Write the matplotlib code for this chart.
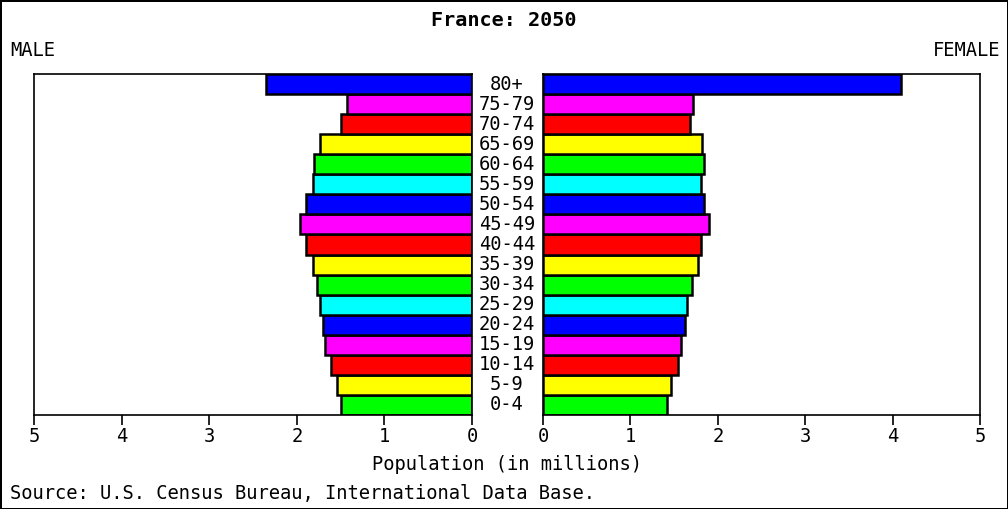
import matplotlib
matplotlib.use('Agg')
import matplotlib.pyplot as plt
import matplotlib.transforms as mtrans

ages = ['0-4', '5-9', '10-14', '15-19', '20-24', '25-29', '30-34', '35-39',
        '40-44', '45-49', '50-54', '55-59', '60-64', '65-69', '70-74',
        '75-79', '80+']
male = [1.50, 1.54, 1.61, 1.68, 1.70, 1.73, 1.77, 1.82,
        1.89, 1.96, 1.89, 1.82, 1.80, 1.73, 1.50, 1.43, 2.35]
female = [1.42, 1.47, 1.54, 1.58, 1.63, 1.65, 1.70, 1.77,
          1.81, 1.90, 1.84, 1.81, 1.84, 1.82, 1.68, 1.72, 4.10]
palette = ['#00ff00', '#ffff00', '#ff0000', '#ff00ff', '#0000ff', '#00ffff']
colors = [palette[i % 6] for i in range(len(ages))]
ticks = [0, 1, 2, 3, 4, 5]

plt.rcParams['font.family'] = 'DejaVu Sans Mono'
fs = 13.5

fig = plt.figure(figsize=(10.08, 5.09), dpi=100)
fig.patch.set_edgecolor('black')
fig.patch.set_linewidth(2)

ax_l = fig.add_axes([34 / 1008, 1 - 415 / 509, 438 / 1008, 341 / 509])
ax_r = fig.add_axes([543 / 1008, 1 - 415 / 509, 437 / 1008, 341 / 509])

y = range(len(ages))
ax_l.barh(y, male, height=1.0, color=colors, edgecolor='black', linewidth=1.8)
ax_r.barh(y, female, height=1.0, color=colors, edgecolor='black', linewidth=1.8)

ax_l.set_xlim(5, 0)
ax_r.set_xlim(0, 5)
for ax in (ax_l, ax_r):
    ax.set_ylim(-0.5, len(ages) - 0.5)
    ax.set_yticks([])
    ax.set_xticks(ticks)
    ax.set_xticklabels([str(t) for t in ticks])
    ax.tick_params(axis='x', direction='out', length=7, width=1.2,
                   labelsize=fs, pad=2)
    for s in ax.spines.values():
        s.set_linewidth(1.2)

# age group labels between the panels
trans = mtrans.blended_transform_factory(fig.transFigure, ax_l.transData)
for i, a in enumerate(ages):
    fig.text(507 / 1008, i, a, transform=trans, ha='center', va='center',
             fontsize=fs)

fig.text(0.5, 1 - 20 / 509, 'France: 2050', ha='center', va='center',
         fontsize=14.5, fontweight='bold')
fig.text(10 / 1008, 1 - 50 / 509, 'MALE', ha='left', va='center', fontsize=fs)
fig.text(1000 / 1008, 1 - 50 / 509, 'FEMALE', ha='right', va='center',
         fontsize=fs)
fig.text(507 / 1008, 1 - 465 / 509, 'Population (in millions)', ha='center',
         va='center', fontsize=fs)
fig.text(10 / 1008, 1 - 493 / 509,
         'Source: U.S. Census Bureau, International Data Base.', ha='left',
         va='center', fontsize=fs)

fig.savefig('out.png', dpi=100)
